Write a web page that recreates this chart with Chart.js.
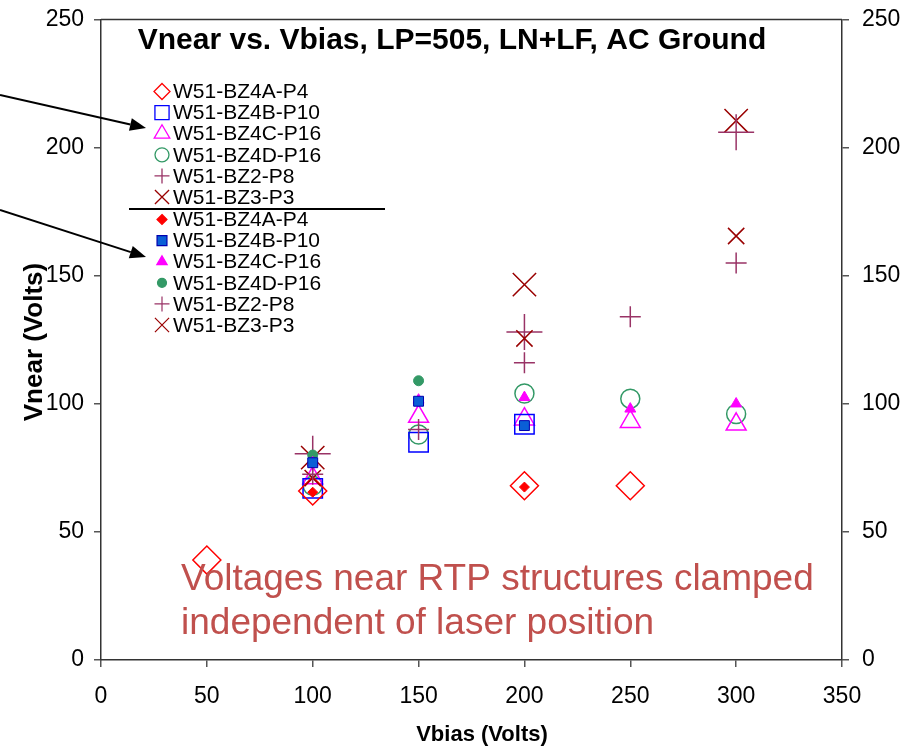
<!DOCTYPE html>
<html><head><meta charset="utf-8">
<script src="https://cdn.jsdelivr.net/npm/chart.js@4.4.0/dist/chart.umd.min.js"></script>
<style>html,body{margin:0;padding:0;background:#fff}#wrap{width:908px;height:748px}</style>
</head><body><div id="wrap"><canvas id="c" width="908" height="748"></canvas></div>
<script>
// ---------- DATA ----------
const xCats = [50, 100, 150, 200, 250, 300];
const seriesNames = ['W51-BZ4A-P4', 'W51-BZ4B-P10', 'W51-BZ4C-P16', 'W51-BZ4D-P16', 'W51-BZ2-P8', 'W51-BZ3-P3'];
// group 1 (open / large markers)
const bz4aOpen = [39, 66, null, 68, 68, null];
const bz4bOpen = [null, 67, 85, 92, null, null];
const bz4cOpen = [null, 71, 95, 94, 93, 92];
const bz4dOpen = [null, 68, 88, 104, 102, 96];
const bz2Open  = [null, 80.5, null, 128, null, 206];
const bz3Open  = [null, 79, null, 146.5, null, 210.5];
// group 2 (filled / small markers)
const bz4aFill = [null, 65.5, null, 67.5, null, null];
const bz4bFill = [null, 77, 101, 91.5, null, null];
const bz4cFill = [null, 77, 101.5, 102.5, 98, 100];
const bz4dFill = [null, 80, 109, null, null, null];
const bz2Fill  = [null, 72.5, 90, 116, 134, 155];
const bz3Fill  = [null, 71, null, 125.5, null, 165.5];
const xTicks = [0, 50, 100, 150, 200, 250, 300, 350];
const yTicks = [0, 50, 100, 150, 200, 250];
const titleText = 'Vnear vs. Vbias, LP=505, LN+LF, AC Ground';
const xTitle = 'Vbias (Volts)';
const yTitle = 'Vnear (Volts)';
const noteLines = ['Voltages near RTP structures clamped', 'independent of laser position'];

// ---------- STYLE ----------
const FONT = "'Liberation Sans', Arial, sans-serif";
const C = { red: '#FF0000', blue: '#0000FF', blueFill: '#0A5FD6', mag: '#FF00FF', green: '#339966', plum: '#993366', dred: '#990000' };

function pts(arr) { const o = []; arr.forEach((v, i) => { if (v !== null) o.push({ x: xCats[i], y: v }); }); return o; }
function ds(label, arr, style, radius, color, fill, bw) {
  return { label, data: pts(arr), pointStyle: style, pointRadius: radius, pointHoverRadius: radius,
    borderColor: color, backgroundColor: fill, pointBorderWidth: bw, borderWidth: bw, showLine: false };
}

const datasets = [
  ds(seriesNames[0], bz4aFill, 'rectRot', 5, C.red, C.red, 1),
  ds(seriesNames[1], bz4bFill, 'rect', 7, '#0000B0', C.blueFill, 1),
  ds(seriesNames[2], bz4cFill, 'triangle', 6.3, C.mag, C.mag, 1),
  ds(seriesNames[3], bz4dFill, 'circle', 5, C.green, C.green, 1),
  ds(seriesNames[4], bz2Fill, 'cross', 10.5, C.plum, 'transparent', 1.5),
  ds(seriesNames[5], bz3Fill, 'crossRot', 11.5, C.dred, 'transparent', 1.5),
  ds(seriesNames[0], bz4aOpen, 'rectRot', 14, C.red, 'transparent', 1.5),
  ds(seriesNames[1], bz4bOpen, 'rect', 13.7, C.blue, 'transparent', 1.5),
  ds(seriesNames[2], bz4cOpen, 'triangle', 11.5, C.mag, 'transparent', 1.5),
  ds(seriesNames[3], bz4dOpen, 'circle', 9.5, C.green, 'transparent', 1.5),
  ds(seriesNames[4], bz2Open, 'cross', 18, C.plum, 'transparent', 1.5),
  ds(seriesNames[5], bz3Open, 'crossRot', 16.5, C.dred, 'transparent', 1.5)
];

// ---------- manual legend marker ----------
function marker(ctx, style, x, y, r, stroke, fill, lw) {
  ctx.save(); ctx.lineWidth = lw; ctx.strokeStyle = stroke; ctx.fillStyle = fill;
  ctx.beginPath();
  if (style === 'circle') { ctx.arc(x, y, r, 0, Math.PI * 2); }
  else if (style === 'rect') { const h = r * Math.SQRT1_2; ctx.rect(x - h, y - h, 2 * h, 2 * h); }
  else if (style === 'rectRot') { ctx.moveTo(x, y - r); ctx.lineTo(x + r, y); ctx.lineTo(x, y + r); ctx.lineTo(x - r, y); ctx.closePath(); }
  else if (style === 'triangle') { for (let k = 0; k < 3; k++) { const a = k * 2 * Math.PI / 3; const px = x + Math.sin(a) * r, py = y - Math.cos(a) * r; k ? ctx.lineTo(px, py) : ctx.moveTo(px, py); } ctx.closePath(); }
  else if (style === 'cross') { ctx.moveTo(x - r, y); ctx.lineTo(x + r, y); ctx.moveTo(x, y - r); ctx.lineTo(x, y + r); }
  else if (style === 'crossRot') { const d = r * Math.SQRT1_2; ctx.moveTo(x - d, y - d); ctx.lineTo(x + d, y + d); ctx.moveTo(x + d, y - d); ctx.lineTo(x - d, y + d); }
  if (style !== 'cross' && style !== 'crossRot') { if (fill !== 'transparent') ctx.fill(); }
  ctx.stroke(); ctx.restore();
}
function arrow(ctx, x0, y0, x1, y1) {
  const a = Math.atan2(y1 - y0, x1 - x0), L = 16, W = 6.5;
  const bx = x1 - Math.cos(a) * L, by = y1 - Math.sin(a) * L;
  ctx.save(); ctx.strokeStyle = '#000'; ctx.fillStyle = '#000'; ctx.lineWidth = 2;
  ctx.beginPath(); ctx.moveTo(x0, y0); ctx.lineTo(bx, by); ctx.stroke();
  ctx.beginPath(); ctx.moveTo(x1, y1);
  ctx.lineTo(bx + Math.sin(a) * W, by - Math.cos(a) * W);
  ctx.lineTo(bx - Math.sin(a) * W, by + Math.cos(a) * W); ctx.closePath(); ctx.fill();
  ctx.restore();
}

const legendOpen = [['rectRot', 8, C.red, 'transparent'], ['rect', 10, C.blue, 'transparent'], ['triangle', 9, C.mag, 'transparent'], ['circle', 7, C.green, 'transparent'], ['cross', 7.5, C.plum, 'transparent'], ['crossRot', 10, C.dred, 'transparent']];
const legendFill = [['rectRot', 5, C.red, C.red], ['rect', 7, '#0000B0', C.blueFill], ['triangle', 6, C.mag, C.mag], ['circle', 4.5, C.green, C.green], ['cross', 7.5, C.plum, 'transparent'], ['crossRot', 10, C.dred, 'transparent']];

const decor = {
  id: 'decor',
  afterDatasetsDraw(chart) {
    const ctx = chart.ctx, a = chart.chartArea;
    ctx.save();
    // top border
    ctx.strokeStyle = '#333'; ctx.lineWidth = 1.5;
    ctx.beginPath(); ctx.moveTo(a.left, a.top); ctx.lineTo(a.right, a.top); ctx.stroke();
    // title
    ctx.fillStyle = '#000'; ctx.textAlign = 'center'; ctx.textBaseline = 'middle';
    ctx.font = 'bold 30px ' + FONT; ctx.fillText(titleText, 452, 41);
    // axis titles
    ctx.font = 'bold 22px ' + FONT; ctx.fillText(xTitle, 482, 735);
    ctx.save(); ctx.translate(35, 342); ctx.rotate(-Math.PI / 2); ctx.font = 'bold 26px ' + FONT; ctx.fillText(yTitle, 0, 0); ctx.restore();
    // note
    ctx.fillStyle = '#C0504D'; ctx.textAlign = 'left'; ctx.textBaseline = 'alphabetic';
    ctx.font = '37px ' + FONT; ctx.fillText(noteLines[0], 181, 590); ctx.fillText(noteLines[1], 181, 634);
    // legend
    ctx.font = '21px ' + FONT; ctx.fillStyle = '#000'; ctx.textBaseline = 'middle';
    for (let i = 0; i < 6; i++) {
      const y1 = 91.5 + i * 21.1, y2 = 219.5 + i * 21.1;
      const o = legendOpen[i], f = legendFill[i];
      marker(ctx, o[0], 162, y1, o[1], o[2], o[3], 1.3);
      marker(ctx, f[0], 162, y2, f[1], f[2], f[3], 1.2);
      ctx.fillStyle = '#000';
      ctx.fillText(seriesNames[i], 173, y1 + 1);
      ctx.fillText(seriesNames[i], 173, y2 + 1);
    }
    ctx.strokeStyle = '#000'; ctx.lineWidth = 2;
    ctx.beginPath(); ctx.moveTo(129, 209); ctx.lineTo(385, 209); ctx.stroke();
    arrow(ctx, 0, 95, 146, 128);
    arrow(ctx, 0, 210, 146, 257);
    ctx.restore();
  }
};

const tickFont = { family: FONT, size: 23 };
function yAxis(pos, w, pad) {
  return { type: 'linear', position: pos, min: 0, max: 250,
    afterBuildTicks: s => { s.ticks = yTicks.map(v => ({ value: v })); },
    afterFit: s => { s.width = w; s.paddingTop = 0; s.paddingBottom = 0; },
    ticks: { font: tickFont, color: '#000', padding: pad },
    grid: { drawOnChartArea: false, drawTicks: true, tickLength: 7, color: '#555', lineWidth: 1.5 },
    border: { display: true, color: '#333', width: 1.5 } };
}

new Chart(document.getElementById('c'), {
  type: 'scatter',
  data: { datasets },
  options: {
    responsive: false, animation: false, devicePixelRatio: 1,
    layout: { padding: { top: 16, left: 0, right: 0, bottom: 0 } },
    plugins: { legend: { display: false }, tooltip: { enabled: false }, title: { display: false } },
    scales: {
      x: { type: 'linear', position: 'bottom', min: 0, max: 350,
        afterBuildTicks: s => { s.ticks = xTicks.map(v => ({ value: v })); },
        afterFit: s => { s.height = 88; s.paddingLeft = 0; s.paddingRight = 0; },
        ticks: { font: tickFont, color: '#000', padding: 16, maxRotation: 0 },
        grid: { drawOnChartArea: false, drawTicks: true, tickLength: 7, color: '#555', lineWidth: 1.5 },
        border: { display: true, color: '#333', width: 1.5 } },
      y: yAxis('left', 101, 10),
      y2: yAxis('right', 66, 13)
    }
  },
  plugins: [decor]
});
</script></body></html>
